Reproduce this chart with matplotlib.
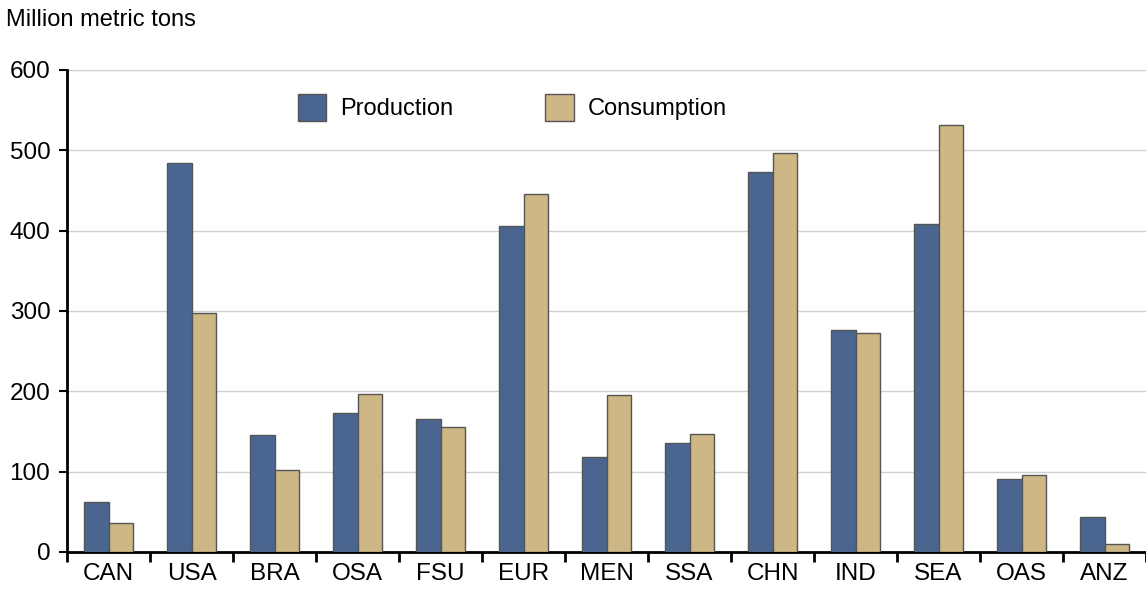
import numpy as np
import matplotlib.pyplot as plt

plt.rcParams['font.family'] = ['Liberation Sans', 'DejaVu Sans']

regions = ["CAN", "USA", "BRA", "OSA", "FSU", "EUR", "MEN", "SSA", "CHN", "IND", "SEA", "OAS", "ANZ"]
production = [62, 484, 146, 173, 166, 406, 118, 136, 473, 276, 408, 91, 44]
consumption = [36, 298, 102, 197, 156, 446, 195, 147, 497, 273, 532, 96, 10]

prod_color = "#4a6690"
cons_color = "#ccb785"

fig = plt.figure(figsize=(11.46, 5.92), dpi=100)
ax = fig.add_axes([0.0585, 0.0676, 0.9415, 0.8142])

x = np.arange(len(regions))
w = 0.29
ax.bar(x - w / 2, production, w, color=prod_color, edgecolor="#555555", linewidth=1, label="Production", zorder=3)
ax.bar(x + w / 2, consumption, w, color=cons_color, edgecolor="#555555", linewidth=1, label="Consumption", zorder=3)

ax.set_xlim(-0.5, len(regions) - 0.5)
ax.set_ylim(0, 600)
ax.set_yticks(range(0, 601, 100))
ax.yaxis.grid(True, color="#d0d0d0", linewidth=1, zorder=0)

ax.set_xticks(x)
ax.set_xticklabels(regions, fontsize=17.5)
ax.tick_params(axis="x", length=0, pad=8)
ax.set_xticks(np.arange(-0.5, len(regions), 1), minor=True)
ax.tick_params(axis="x", which="minor", length=7, width=2, direction="out")
ax.tick_params(axis="y", labelsize=17.5, length=6, width=1.5, pad=6)

for s in ["top", "right"]:
    ax.spines[s].set_visible(False)
ax.spines["left"].set_linewidth(2)
ax.spines["bottom"].set_linewidth(2)

ax.legend(loc="upper left", bbox_to_anchor=(0.194, 0.995), ncol=2, frameon=False,
          fontsize=17, handlelength=1.2, handleheight=1.4, columnspacing=3.9, handletextpad=0.6)

fig.text(0.005, 0.966, "Million metric tons", fontsize=17, va="center", ha="left")

fig.savefig("out.png", dpi=100)
